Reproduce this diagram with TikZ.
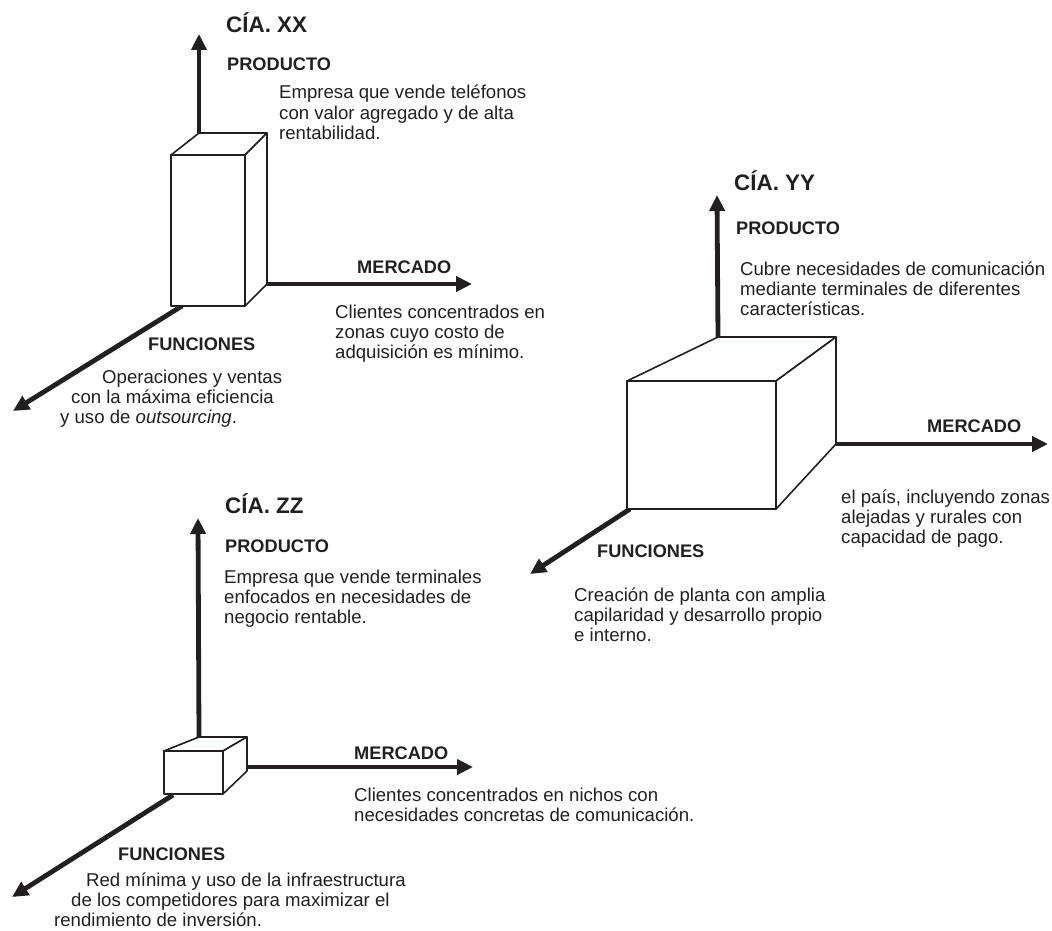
\documentclass[tikz,border=0pt]{standalone}
\usepackage{fontspec}
\setmainfont{Liberation Sans}
\usetikzlibrary{arrows.meta}
\definecolor{ink}{RGB}{35,31,32}
\begin{document}
\begin{tikzpicture}[x=1pt,y=-1pt,
  axis/.style={line width=4.8pt, draw=ink, -{Triangle[length=16pt,width=15pt]}},
  boxface/.style={line width=1.6pt, draw=ink, fill=white, line join=round},
  title/.style={anchor=base west, inner sep=0pt, text=ink, font=\fontsize{22.4}{26}\selectfont\bfseries},
  head/.style={anchor=base west, inner sep=0pt, text=ink, font=\fontsize{18.2}{20}\selectfont\bfseries},
  body/.style={anchor=base west, inner sep=0pt, text=ink, align=left, font=\fontsize{18.6}{20.2}\selectfont}]
\useasboundingbox (0,0) rectangle (1052,931);

% ---------- CIA XX ----------
\coordinate (xa) at (171,155); \coordinate (xb) at (245,155);
\coordinate (xc) at (245,306); \coordinate (xd) at (171,306);
\coordinate (xe) at (199,133); \coordinate (xf) at (267,133);
\coordinate (xg) at (267,284); \coordinate (xs) at (182,306);
\coordinate (xP) at (199,34); \coordinate (xM) at (472,284); \coordinate (xF) at (13,411);
\draw[axis] (xe) -- (xP);
\draw[axis] (xg) -- (xM);
\draw[axis] (xs) -- (xF);
\draw[boxface] (xa) -- (xe) -- (xf) -- (xb) -- cycle;
\draw[boxface] (xb) -- (xf) -- (xg) -- (xc) -- cycle;
\draw[boxface] (xa) rectangle (xc);
\node[title] (xt) at (226,33) {CÍA. XX};
\node[head] (xph) at (227,71) {PRODUCTO};
\node[body] (xpb) at (279,139.4) {Empresa que vende teléfonos\\con valor agregado y de alta\\rentabilidad.};
\node[head] (xmh) at (357,273) {MERCADO};
\node[body] (xmb) at (335,358.4) {Clientes concentrados en\\zonas cuyo costo de\\adquisición es mínimo.};
\node[head] (xfh) at (148,350) {FUNCIONES};
\node[body] (xfb) at (60,423.4) {\hspace*{42pt}Operaciones y ventas\\\hspace*{11pt}con la máxima eficiencia\\y uso de \textit{outsourcing}.};

% ---------- CIA YY ----------
\coordinate (ya) at (627,381); \coordinate (yb) at (776,381);
\coordinate (yc) at (776,509); \coordinate (yd) at (627,509);
\coordinate (ye) at (718,337); \coordinate (yf) at (836,337);
\coordinate (yg) at (836,444); \coordinate (ys) at (630,509);
\coordinate (yP) at (717,195); \coordinate (yM) at (1048,444); \coordinate (yF) at (530,574);
\draw[axis] (ye) -- (yP);
\draw[axis] (yg) -- (yM);
\draw[axis] (ys) -- (yF);
\draw[boxface] (ya) -- (ye) -- (yf) -- (yb) -- cycle;
\draw[boxface] (yb) -- (yf) -- (yg) -- (yc) -- cycle;
\draw[boxface] (ya) rectangle (yc);
\node[title] (yt) at (734,190) {CÍA. YY};
\node[head] (yph) at (736,234) {PRODUCTO};
\node[body] (ypb) at (740,315.4) {Cubre necesidades de comunicación\\mediante terminales de diferentes\\características.};
\node[head] (ymh) at (927,432) {MERCADO};
\node[body] (ymb) at (841,543.4) {el país, incluyendo zonas\\alejadas y rurales con\\capacidad de pago.};
\node[head] (yfh) at (597,557) {FUNCIONES};
\node[body] (yfb) at (574,641.4) {Creación de planta con amplia\\capilaridad y desarrollo propio\\e interno.};

% ---------- CIA ZZ ----------
\coordinate (za) at (164,751); \coordinate (zb) at (223,751);
\coordinate (zc) at (223,794); \coordinate (zd) at (164,794);
\coordinate (ze) at (199,737); \coordinate (zf) at (247,737);
\coordinate (zg) at (247,771); \coordinate (zs) at (173,795);
\coordinate (zm) at (247,767);
\coordinate (zP) at (198,518); \coordinate (zM) at (473,767); \coordinate (zF) at (12,897);
\draw[axis] (ze) -- (zP);
\draw[axis] (zm) -- (zM);
\draw[axis] (zs) -- (zF);
\draw[boxface] (za) -- (ze) -- (zf) -- (zb) -- cycle;
\draw[boxface] (zb) -- (zf) -- (zg) -- (zc) -- cycle;
\draw[boxface] (za) rectangle (zc);
\node[title] (zt) at (225,513) {CÍA. ZZ};
\node[head] (zph) at (225,552) {PRODUCTO};
\node[body] (zpb) at (224,623.4) {Empresa que vende terminales\\enfocados en necesidades de\\negocio rentable.};
\node[head] (zmh) at (354,759) {MERCADO};
\node[body] (zmb) at (354,821.2) {Clientes concentrados en nichos con\\necesidades concretas de comunicación.};
\node[head] (zfh) at (118,860) {FUNCIONES};
\node[body] (zfb) at (54,926.4) {\hspace*{32pt}Red mínima y uso de la infraestructura\\\hspace*{17pt}de los competidores para maximizar el\\rendimiento de inversión.};
\end{tikzpicture}
\end{document}
